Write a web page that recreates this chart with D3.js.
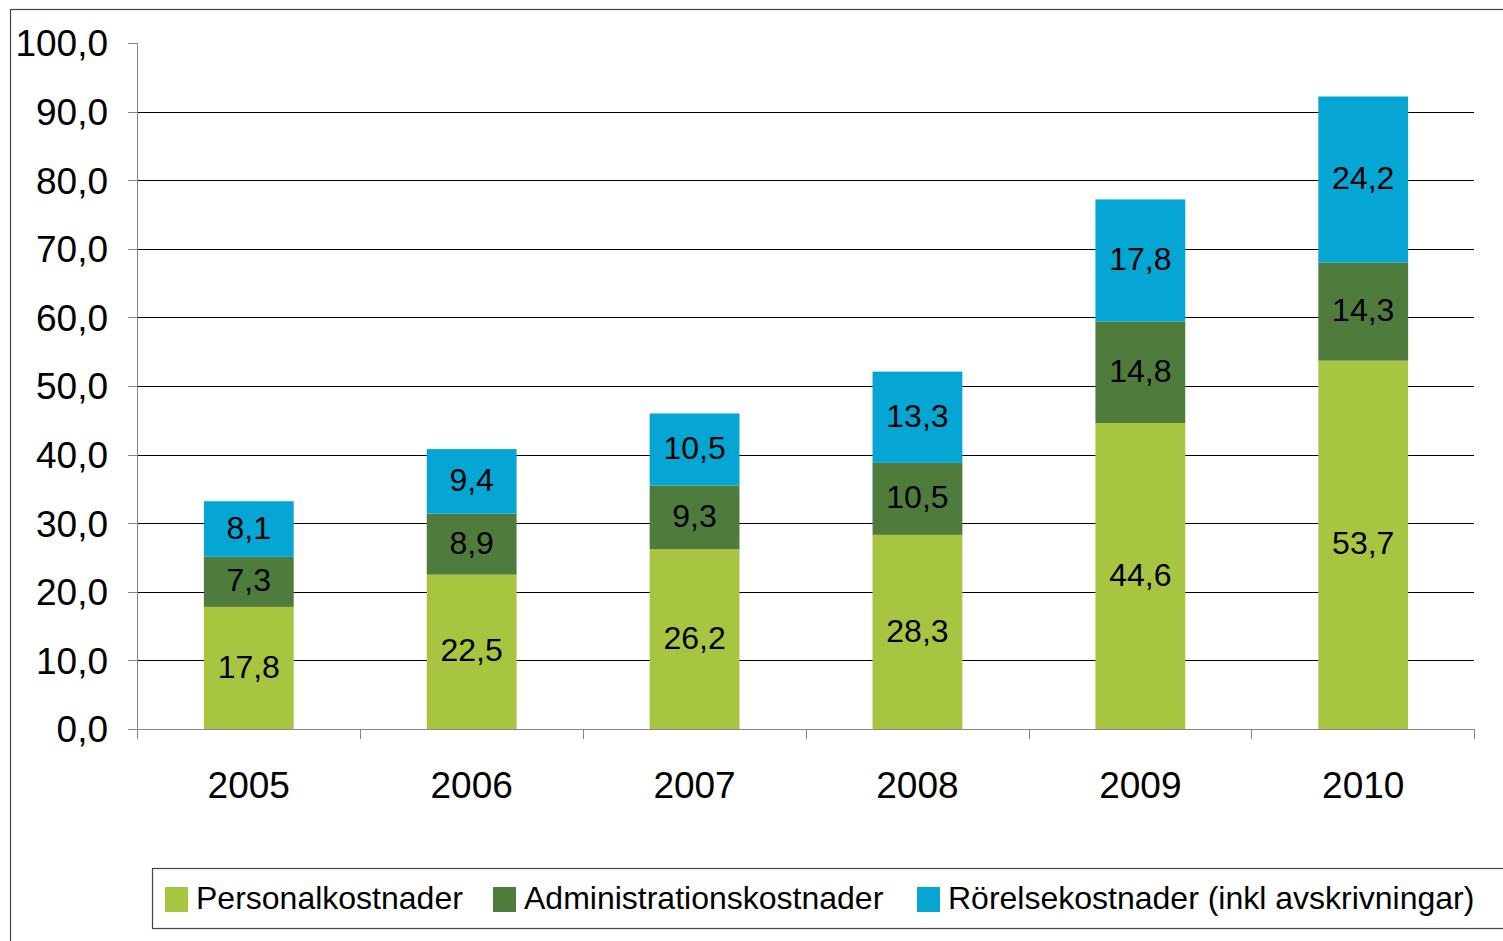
<!DOCTYPE html>
<html lang="sv">
<head>
  <meta charset="UTF-8">
  <title>Kostnader per år</title>
  <style>
    body { margin: 0; background: #fff; }
    svg { display: block; font-family: "Liberation Sans", Arial, sans-serif; }
    .axis path, .axis line { stroke: #868686; shape-rendering: crispEdges; }
    .grid line { stroke: #000; shape-rendering: crispEdges; }
  </style>
</head>
<body>
  <div id="chart"></div>
  <script src="https://cdn.jsdelivr.net/npm/d3@7"></script>
  <script>
    // data
    const years = ["2005", "2006", "2007", "2008", "2009", "2010"];
    const personal = [17.8, 22.5, 26.2, 28.3, 44.6, 53.7];
    const admin = [7.3, 8.9, 9.3, 10.5, 14.8, 14.3];
    const rorelse = [8.1, 9.4, 10.5, 13.3, 17.8, 24.2];
    const seriesNames = ["Personalkostnader", "Administrationskostnader", "Rörelsekostnader (inkl avskrivningar)"];
    const colors = ["#a7c540", "#4f7b3d", "#05a6d3"];
    const yTicks = [0, 10, 20, 30, 40, 50, 60, 70, 80, 90, 100];

    const W = 1503, H = 941;
    const mLeft = 137, mRight = 1475, mTop = 43, mBottom = 729;

    const sv = d3.formatLocale({ decimal: ",", thousands: " ", grouping: [3], currency: ["", " kr"] });
    const fmt = sv.format(".1f");

    const rows = years.map((y, i) => ({ year: y, p: personal[i], a: admin[i], r: rorelse[i] }));
    const stack = d3.stack().keys(["p", "a", "r"])(rows);

    const x = d3.scaleBand().domain(years).range([mLeft, mRight])
      .paddingInner(0.597).paddingOuter(0.3);
    const y = d3.scaleLinear().domain([0, 100]).range([mBottom, mTop]);

    const svg = d3.select("#chart").append("svg")
      .attr("width", W).attr("height", H);

    // outer frame
    svg.append("rect")
      .attr("x", 10.5).attr("y", 9.5)
      .attr("width", W).attr("height", H)
      .attr("fill", "#fff").attr("stroke", "#444").attr("stroke-width", 1.2);

    // gridlines
    svg.append("g").attr("class", "grid")
      .selectAll("line").data(yTicks.filter(d => d > 0 && d < 100)).enter()
      .append("line")
      .attr("x1", mLeft).attr("x2", mRight - 1)
      .attr("y1", d => Math.round(y(d)) + 0.5).attr("y2", d => Math.round(y(d)) + 0.5);

    // bars
    const layer = svg.selectAll(".layer").data(stack).enter()
      .append("g").attr("fill", (d, i) => colors[i]);
    layer.selectAll("rect").data(d => d).enter().append("rect")
      .attr("x", d => x(d.data.year))
      .attr("width", x.bandwidth())
      .attr("y", d => y(d[1]))
      .attr("height", d => y(d[0]) - y(d[1]));

    // value labels
    layer.selectAll("text").data(d => d).enter().append("text")
      .attr("x", d => x(d.data.year) + x.bandwidth() / 2)
      .attr("y", d => (y(d[0]) + y(d[1])) / 2)
      .attr("dy", "0.3em")
      .attr("text-anchor", "middle")
      .attr("fill", "#000")
      .style("font-size", "32px")
      .text(d => fmt(d[1] - d[0]));

    // y axis
    const yAxis = svg.append("g").attr("class", "axis")
      .attr("transform", "translate(" + mLeft + ",0)")
      .call(d3.axisLeft(y).tickValues(yTicks).tickSize(9).tickPadding(20).tickFormat(fmt));
    yAxis.selectAll("text").style("font-size", "37px").attr("fill", "#000")
      .attr("dy", "0.35em");
    yAxis.select(".domain").attr("d", "M-9," + (mTop + 0.5) + "H0.5V" + (mBottom + 0.5));

    // x axis
    const step = x.step();
    const bounds = d3.range(years.length + 1).map(i => mLeft + i * step);
    const xAxis = svg.append("g").attr("class", "axis");
    xAxis.append("line")
      .attr("x1", mLeft - 9).attr("x2", mRight)
      .attr("y1", mBottom + 0.5).attr("y2", mBottom + 0.5);
    xAxis.selectAll(".tk").data(bounds).enter().append("line")
      .attr("x1", d => Math.round(d) + 0.5).attr("x2", d => Math.round(d) + 0.5)
      .attr("y1", mBottom).attr("y2", mBottom + 10);
    xAxis.selectAll("text").data(years).enter().append("text")
      .attr("x", d => x(d) + x.bandwidth() / 2)
      .attr("y", 798)
      .attr("text-anchor", "middle")
      .style("font-size", "37px")
      .text(d => d);

    // legend
    const lg = svg.append("g");
    lg.append("rect")
      .attr("x", 152.5).attr("y", 868.5)
      .attr("width", 1400).attr("height", 60)
      .attr("fill", "#fff").attr("stroke", "#444").attr("stroke-width", 1.2);
    const legX = [165, 493, 917];
    seriesNames.forEach((name, i) => {
      lg.append("rect")
        .attr("x", legX[i]).attr("y", 887)
        .attr("width", 23).attr("height", 25)
        .attr("fill", colors[i]);
      lg.append("text")
        .attr("x", legX[i] + 31).attr("y", 909)
        .style("font-size", "32px")
        .text(name);
    });
  </script>
</body>
</html>
